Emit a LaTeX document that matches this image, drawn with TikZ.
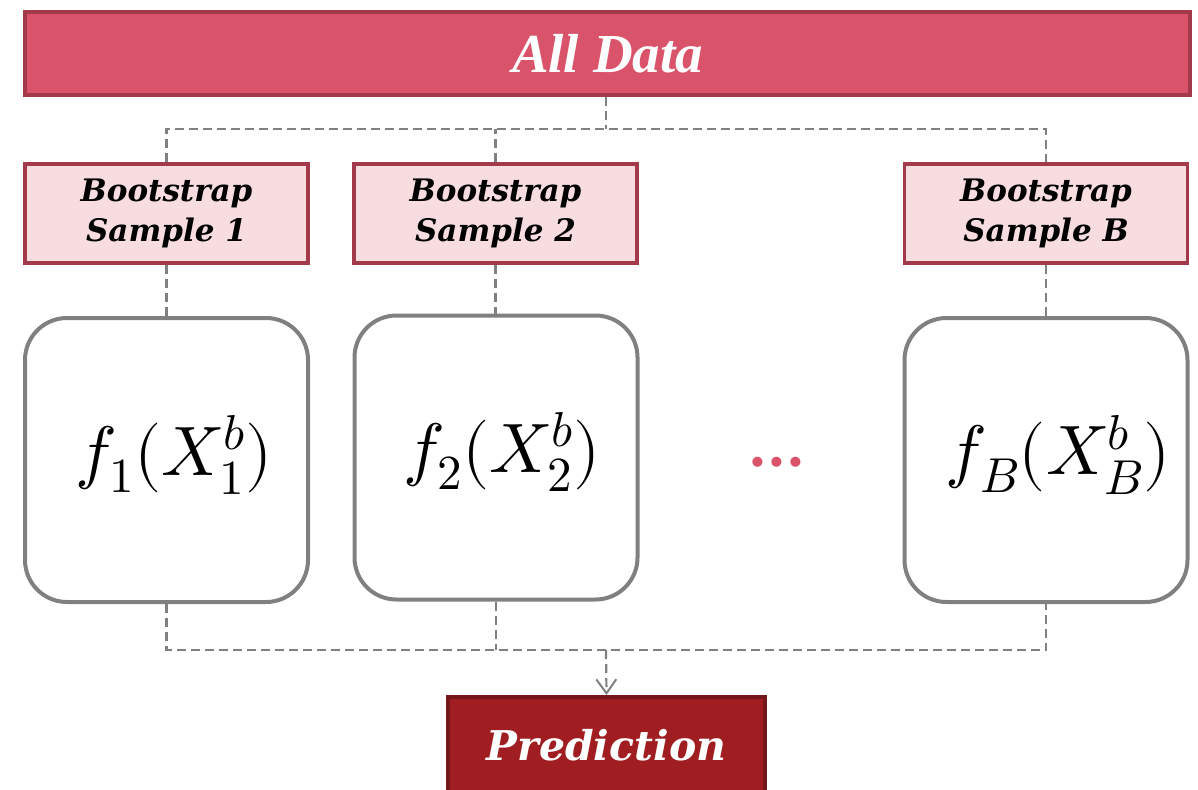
\documentclass[tikz,border=0pt]{standalone}
\usepackage{fontspec}
\usepackage{unicode-math}
\setmainfont{DejaVu Serif}
\setmathfont{Latin Modern Math}
\newfontfamily\titlefont{Liberation Serif}
\usetikzlibrary{arrows.meta,positioning}

\definecolor{rosefill}{HTML}{D9536A}
\definecolor{roseline}{HTML}{A33A4C}
\definecolor{palefill}{HTML}{F7DCE0}
\definecolor{predfill}{HTML}{A01E22}
\definecolor{predline}{HTML}{74171A}
\definecolor{linkgray}{HTML}{808080}

\begin{document}
\begin{tikzpicture}[
  x=1pt, y=-1pt,
  topbox/.style={draw=roseline, fill=rosefill, line width=4pt, minimum width=1165pt, minimum height=83pt,
    text=white, font=\titlefont\bfseries\itshape\fontsize{55}{55}\selectfont},
  sample/.style={draw=roseline, fill=palefill, line width=3.5pt, minimum width=283pt, minimum height=99pt,
    align=center, font=\bfseries\itshape\fontsize{31}{40}\selectfont},
  model/.style={draw=linkgray, rounded corners=42pt, line width=4pt, minimum width=283pt, minimum height=284pt,
    font=\fontsize{70}{70}\selectfont},
  predbox/.style={draw=predline, fill=predfill, line width=4pt, minimum width=317pt, minimum height=110pt},
  predlabel/.style={text=white, font=\bfseries\itshape\fontsize{41}{41}\selectfont},
  link/.style={draw=linkgray, line width=2.2pt, dash pattern=on 9pt off 5pt},
  arr/.style={link, -{Straight Barb[length=14pt, width=20pt, line width=2pt]}}
]
\useasboundingbox (0,0) rectangle (1198,789);
\clip (0,0) rectangle (1198,789);

% ---- data ----
\node[topbox] (all) at (607.5,53.5) {All Data};

% ---- bootstrap samples ----
\node[sample] (s1) at (166.5,213.5) {Bootstrap\\Sample 1};
\node[sample] (s2) at (495.5,213.5) {Bootstrap\\Sample 2};
\node[sample] (sB) at (1046,213.5) {Bootstrap\\Sample B};

% ---- models ----
\node[model] (m1) at (166.5,460) {};
\node[model] (m2) at (496,457.5) {};
\node[model] (mB) at (1046,460) {};
\node[font=\fontsize{70}{70}\selectfont] (f1) at (174,455) {$f_1(X_1^b)$};
\node[font=\fontsize{70}{70}\selectfont] (f2) at (502,452) {$f_2(X_2^b)$};
\node[font=\fontsize{70}{70}\selectfont] (fB) at (1058,455) {$f_B(X_B^b)$};
\node[text=rosefill, font=\fontsize{54}{54}\selectfont\bfseries] (dots) at (777,462) {...};

% ---- prediction ----
\node[predbox] (pred) at (606.5,752) {};
\node[predlabel] (predtext) at (606.5,745) {Prediction};

% ---- dashed links ----
\coordinate (split) at (606,129);
\coordinate (join) at (606,650);
\draw[link] (all.south -| split) -- (split);
\draw[link] (s1.north) -- (s1.north |- split) -- (sB.north |- split) -- (sB.north);
\draw[link] (s2.north) -- (s2.north |- split);
\foreach \s/\m in {s1/m1,s2/m2,sB/mB}
  {\draw[link] (\s.south) -- (\s.south |- \m.north);}
\draw[link] (m1.south) -- (m1.south |- join) -- (mB.south |- join) -- (mB.south);
\draw[link] (m2.south) -- (m2.south |- join);
\draw[arr] (join) -- (pred.north);

\end{tikzpicture}
\end{document}
